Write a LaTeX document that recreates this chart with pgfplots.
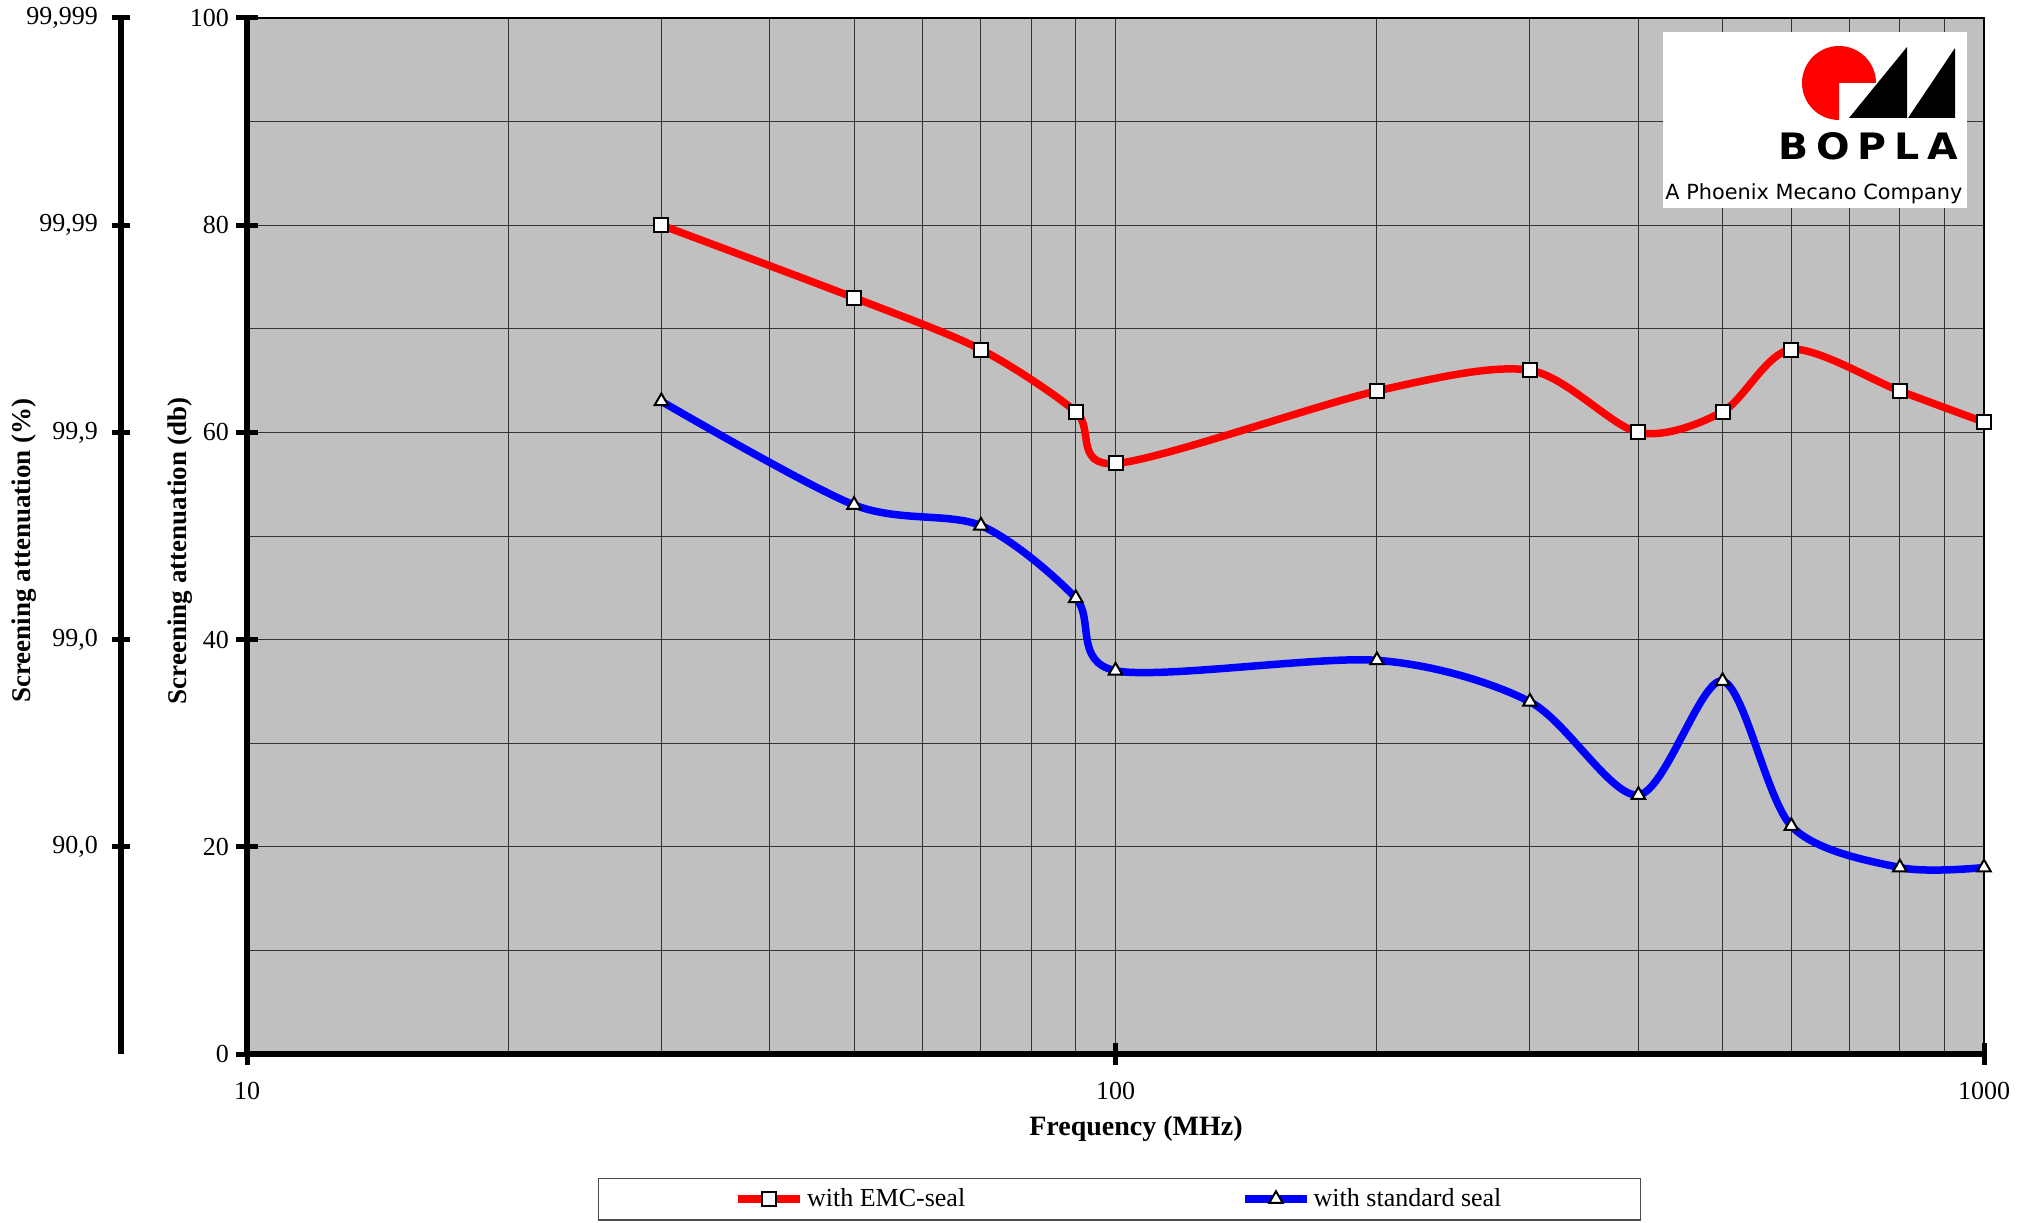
\documentclass[border=0pt]{standalone}
\usepackage{graphicx}
\usepackage{pgfplots}
\pgfplotsset{compat=1.18}
\usepackage{fontspec}
\setmainfont{Liberation Serif}
\newfontfamily\logofont{DejaVu Sans}
\definecolor{plotbg}{RGB}{192,192,192}
\begin{document}
\begin{tikzpicture}
\useasboundingbox (-123.5pt,-84pt) rectangle (894pt,527pt);
% secondary (percent) axis
\begin{axis}[
  at={(-63pt,0pt)}, anchor=south west,
  scale only axis, width=10pt, height=518pt,
  xmin=0, xmax=1, ymin=0, ymax=100,
  hide x axis,
  axis y line*=left,
  y axis line style={line width=2.8pt, -},
  ytick={20,40,60,80,100},
  yticklabels={{90,0},{99,0},{99,9},{99,99},{99,999}},
  tick align=center,
  major tick length=9pt,
  major tick style={black, line width=2.5pt},
  tick label style={font=\fontsize{13}{15}\selectfont},
  yticklabel style={anchor=east, xshift=-3.5pt},
  ylabel={Screening attenuation (\%)},
  ylabel style={font=\fontsize{13.5}{16}\selectfont\bfseries, at={(axis description cs:-4.85,0.486)}, anchor=center},
]
\end{axis}
% main axis
\begin{axis}[
  at={(0pt,0pt)}, anchor=south west,
  scale only axis, width=868.5pt, height=518pt,
  clip=false,
  xmode=log, xmin=10, xmax=1000, ymin=0, ymax=100,
  axis background/.style={fill=plotbg},
  axis line style={line width=0.6pt, black},
  xtick={10,100,1000}, xticklabels={10,100,1000},
  minor xtick={20,30,40,50,60,70,80,90,200,300,400,500,600,700,800,900},
  ytick={0,20,40,60,80,100}, yticklabels={0,20,40,60,80,100},
  minor ytick={10,30,50,70,90},
  grid=both,
  major grid style={black!80, line width=0.5pt},
  minor grid style={black!80, line width=0.5pt},
  tick pos=left, tick align=center,
  major tick length=11pt, minor tick length=0pt,
  major tick style={black, line width=2.5pt},
  tick label style={font=\fontsize{13}{15}\selectfont},
  yticklabel style={anchor=east},
  xticklabel style={anchor=north, yshift=-5pt},
  xlabel={Frequency (MHz)},
  xlabel style={font=\fontsize{14}{16}\selectfont\bfseries, at={(axis description cs:0.5118,0)}, anchor=base, yshift=-40.5pt},
  ylabel={Screening attenuation (db)},
  ylabel style={font=\fontsize{13.5}{16}\selectfont\bfseries, at={(axis description cs:-0.0386,0.486)}, anchor=center},
  legend columns=2,
  legend image code/.code={\draw[mark repeat=2, mark phase=2, #1] plot coordinates {(0pt,0pt) (15.5pt,0pt) (31pt,0pt)};},
  legend style={at={(axis description cs:0.5023,-0.140)}, anchor=center, draw=black!70, line width=0.75pt, fill=white,
    inner xsep=68pt, inner ysep=3.6pt, nodes={inner sep=1.5pt, text depth=0.15em},
    font=\fontsize{13}{15}\selectfont,
    /tikz/every even column/.append style={column sep=136.5pt}},
]
\addplot[red, line width=3.75pt, smooth, mark=square*, mark size=3.5pt,
  mark options={fill=white, draw=black, line width=1pt, solid}]
  coordinates {(30,80) (50,73) (70,68) (90,62) (100,57) (200,64) (300,66) (400,60) (500,62) (600,68) (800,64) (1000,61)};
\addlegendentry{with EMC-seal}
\addplot[blue, line width=3.75pt, smooth, mark=triangle*, mark size=3.9pt,
  mark options={fill=white, draw=black, line width=1pt, solid}]
  coordinates {(30,63) (50,53) (70,51) (90,44) (100,37) (200,38) (300,34) (400,25) (500,36) (600,22) (800,18) (1000,18)};
\addlegendentry{with standard seal}
\draw[line width=2.8pt, black] (rel axis cs:0,1) -- (rel axis cs:0,0) -- (rel axis cs:1,0);
\end{axis}
% logo
\fill[white] (708pt,423pt) rectangle (860pt,511pt);
\fill[red] (796pt,485.5pt) -- ++(18.5pt,0pt) arc[start angle=0, end angle=270, radius=18.5pt] -- cycle;
\fill[black] (801pt,468pt) -- (830pt,503.5pt) -- (830pt,468pt) -- cycle;
\fill[black] (830.5pt,468pt) -- (854pt,503pt) -- (854pt,468pt) -- cycle;
\node[anchor=base west, inner sep=0pt] at (765.5pt,447pt) {\resizebox{90pt}{13.5pt}{\logofont\bfseries B\hspace{0.2em}O\hspace{0.2em}P\hspace{0.2em}L\hspace{0.2em}A}};
\node[anchor=base west, inner sep=0pt] at (709pt,427pt) {\resizebox{148.5pt}{!}{\logofont A Phoenix Mecano Company}};
\end{tikzpicture}
\end{document}
